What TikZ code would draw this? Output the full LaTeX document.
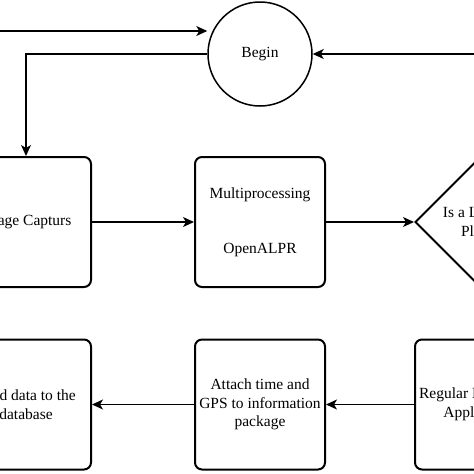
\documentclass[tikz,border=0pt]{standalone}
\usepackage{fontspec}
\setmainfont{Liberation Serif}
\usetikzlibrary{arrows.meta, positioning, shapes.geometric}

\begin{document}
\begin{tikzpicture}[x=1pt, y=-1pt, >={Stealth[length=11pt, width=10pt, inset=3pt]},
    every node/.style={font=\fontsize{15.5}{18.5}\selectfont, align=center, inner sep=0pt},
    stepbox/.style={draw, line width=2pt, rounded corners=7pt, minimum width=130pt, minimum height=130pt},
    decision/.style={draw, diamond, aspect=1, line width=2pt, minimum width=130pt, minimum height=130pt},
    line/.style={->, line width=1.3pt}]

        \useasboundingbox (0,0) rectangle (474,474);
        \clip (0,0) rectangle (474,474);

        \node[draw, circle, line width=1.5pt, minimum size=104pt] (begin) at (260,54) {Begin};

        \node[stepbox] (capture) at (26,222) {Image Capturs};
        \node[stepbox] (multi) at (260,222) {Multiprocessing\\[36.5pt]OpenALPR};
        \node[decision] (plate) at (480,222) {Is a License\\Plate?};

        \node[stepbox] (send) at (26,404.5) {Send data to the\\database};
        \node[stepbox] (attach) at (260,404.5) {Attach time and\\GPS to information\\package};
        \node[stepbox] (regex) at (480,404.5) {Regular Expression\\Application};

        \coordinate (inL) at (-10,31);
        \coordinate (inR) at (484,54);

        \draw[line] (inL) -- (begin.west |- inL);
        \draw[line] (inR) -- (begin.east);
        \draw[line] (begin.west) -| (capture.north);
        \draw[line] (capture) -- (multi);
        \draw[line] (multi) -- (plate);
        \draw[line] (regex) -- (attach);
        \draw[line] (attach) -- (send);
    \end{tikzpicture}
\end{document}
